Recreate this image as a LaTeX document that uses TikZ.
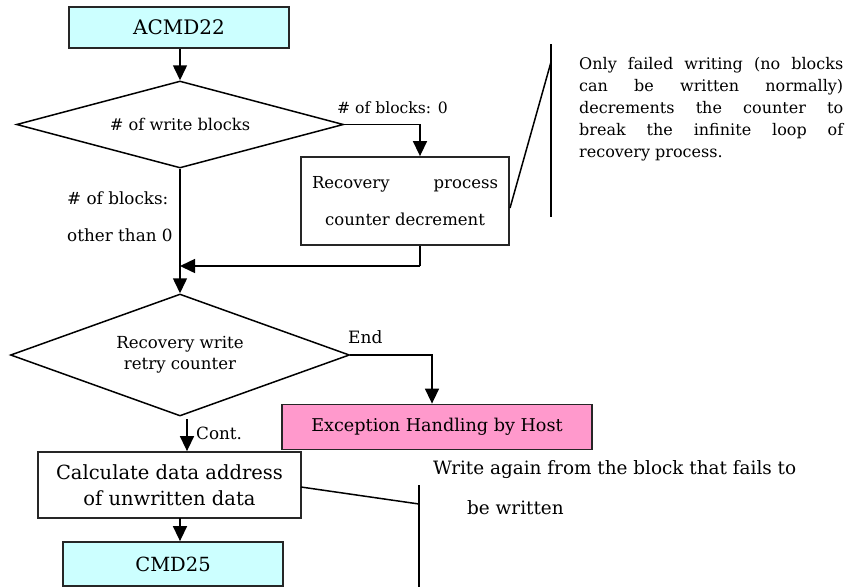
\documentclass[tikz,border=0pt]{standalone}
\usepackage{fontspec}
\setmainfont{DejaVu Serif}
\usetikzlibrary{arrows.meta,shapes.geometric}
\definecolor{cmdcyan}{HTML}{CCFFFF}
\definecolor{hostpink}{HTML}{FF99CC}
\newcommand{\fs}[2]{\fontsize{#1}{#2}\selectfont}
\tikzset{
  x=1pt, y=-1pt,
  line/.style={line width=1.5pt, black},
  arr/.style={line, -{Triangle[width=14pt,length=15pt]}},
  boxnode/.style={draw=black!85, line width=1.8pt, inner sep=0pt, align=center},
  cmdbox/.style={boxnode, fill=cmdcyan},
  decision/.style={draw=black, line width=1.5pt, diamond, inner sep=0pt, align=center},
  lbl/.style={inner sep=0pt, anchor=west},
}
\begin{document}
\begin{tikzpicture}
\useasboundingbox (0,0) rectangle (850,587);

% process boxes
\node[cmdbox, minimum width=220pt, minimum height=41pt, font=\fs{20}{24}] (acmd) at (179,27.5) {ACMD22};
\node[decision, minimum width=327pt, minimum height=87pt, shape aspect=3.76, font=\fs{16.2}{20}] (d1) at (180,124.5) {\# of write blocks};
\node[boxnode, minimum width=208pt, minimum height=88pt, font=\fs{16.5}{37}] (rec) at (405,201)
  {\makebox[186pt][s]{Recovery\hfill process}\\counter decrement};
\node[decision, minimum width=339pt, minimum height=122pt, shape aspect=2.78, font=\fs{16.6}{21}] (d2) at (180,355)
  {Recovery write\\retry counter};
\node[boxnode, fill=hostpink, minimum width=310pt, minimum height=45pt, font=\fs{17.6}{21}] (host) at (437,427) {Exception Handling by Host};
\node[boxnode, minimum width=263pt, minimum height=66pt, font=\fs{19.5}{26}] (calc) at (169.5,485)
  {Calculate data address\\of unwritten data};
\node[cmdbox, minimum width=220pt, minimum height=44pt, font=\fs{19.5}{24}] (cmd) at (173,564) {CMD25};

% connectors
\coordinate (j1) at (420,124.5);
\coordinate (j2) at (420,266);
\coordinate (m1) at (180,266);
\coordinate (e1) at (432,355);
\coordinate (c1) at (187,419);
\coordinate (c2) at (180,518);

\draw[arr] (acmd.south -| d1.north) -- (d1.north);
\draw[arr] (d1.east) -- (j1) -- (j1 |- rec.north);
\draw[arr] (d1.south) -- (d2.north);
\draw[line] (rec.south -| j2) -- (j2);
\draw[arr] (j2) -- (m1);
\draw[arr] (d2.east) -- (e1) -- (e1 |- host.north);
\draw[arr] (c1) -- (c1 |- calc.north);
\draw[arr] (c2) -- (c2 |- cmd.north);

% branch labels
\node[lbl, font=\fs{15.6}{18}] (l0) at (337,108) {\# of blocks: 0};
\node[lbl, font=\fs{16.8}{18}] (ln1) at (67,198) {\# of blocks:};
\node[lbl, font=\fs{16.8}{18}] (ln2) at (67,235) {other than 0};
\node[lbl, font=\fs{17}{18}] (lend) at (348,337) {End};
\node[lbl, font=\fs{16.8}{18}] (lcont) at (196,433) {Cont.};

% annotation for the decrement step
\coordinate (b1t) at (551,44);
\coordinate (b1b) at (551,217);
\coordinate (b1k) at (551,62);
\coordinate (r1) at (510,208);
\draw[line] (b1t) -- (b1b);
\draw[line] (r1) -- (b1k);
\node[inner sep=0pt, anchor=north west, text width=264pt, align=justify, font=\fs{16}{22}] (note1) at (579,57)
  {Only failed writing (no blocks\linebreak can be written normally)\linebreak decrements the counter to\linebreak break the infinite loop of\linebreak recovery process.};

% annotation for the address step
\coordinate (b2t) at (419,485);
\coordinate (b2b) at (419,587);
\coordinate (b2k) at (419,504);
\coordinate (r2) at (301,487);
\draw[line] (b2t) -- (b2b);
\draw[line] (r2) -- (b2k);
\node[lbl, font=\fs{18.4}{20}] (note2a) at (433,470) {Write again from the block that fails to};
\node[lbl, font=\fs{18.4}{20}] (note2b) at (467,508) {be written};
\end{tikzpicture}
\end{document}
